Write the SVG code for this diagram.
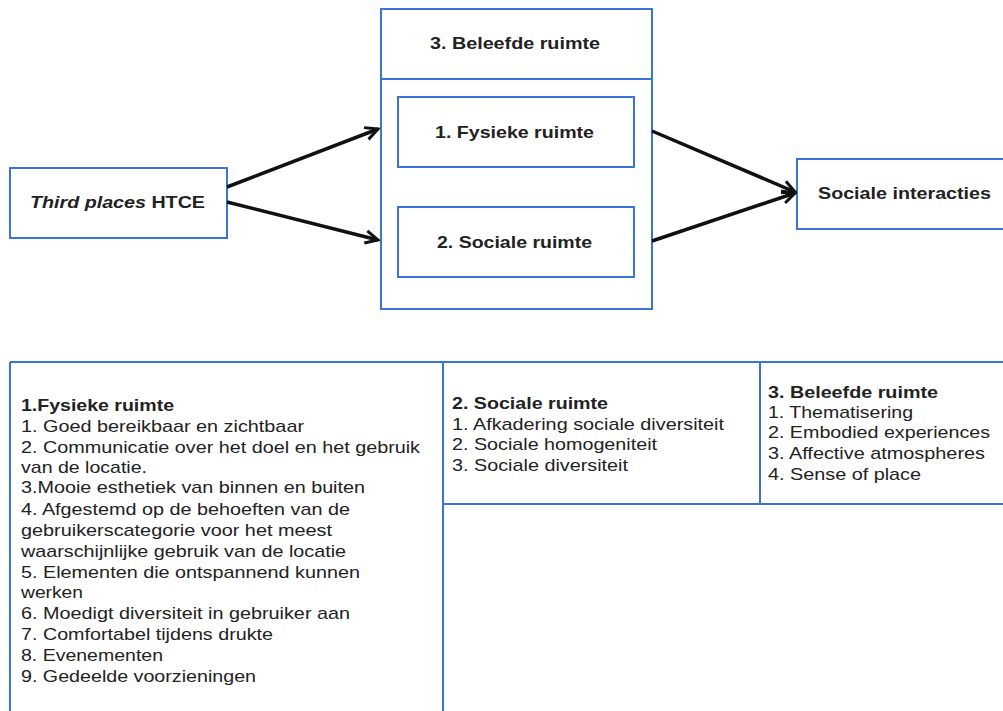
<svg xmlns="http://www.w3.org/2000/svg" width="1003" height="711" viewBox="0 0 1003 711">
<defs>
<style>
.box{fill:#fff;stroke:#3b73d8;stroke-width:2}
.ln{stroke:#3b73d8;stroke-width:2;fill:none}
.lbl{font-family:"Liberation Sans",Arial,sans-serif;font-size:17px;font-weight:bold;fill:#222}
.t{font-family:"Liberation Sans",Arial,sans-serif;font-size:17px;fill:#222}
.tb{font-family:"Liberation Sans",Arial,sans-serif;font-size:17px;font-weight:bold;fill:#222}
.arr{stroke:#111;stroke-width:3.5;fill:none;marker-end:url(#ah)}
</style>
<marker id="ah" viewBox="0 0 14 14" refX="12" refY="7" markerWidth="16" markerHeight="16" markerUnits="userSpaceOnUse" orient="auto">
<path d="M1,1.5 L12,7 L1,12.5" fill="none" stroke="#111" stroke-width="2.6"/>
</marker>
</defs>
<rect width="1003" height="711" fill="#fff"/>

<g id="third-places">
<rect class="box" x="10" y="168" width="217" height="70"/>
<text class="lbl" x="30" y="208" textLength="175" lengthAdjust="spacingAndGlyphs"><tspan font-style="italic">Third places</tspan> HTCE</text>
</g>

<g id="beleefde-ruimte">
<rect class="box" x="381" y="9" width="271" height="300"/>
<line class="ln" x1="381" y1="79" x2="652" y2="79"/>
<text class="lbl" x="430" y="49" textLength="170" lengthAdjust="spacingAndGlyphs">3. Beleefde ruimte</text>
</g>

<g id="fysieke-ruimte">
<rect class="box" x="398" y="97" width="236" height="70"/>
<text class="lbl" x="435" y="138" textLength="159" lengthAdjust="spacingAndGlyphs">1. Fysieke ruimte</text>
</g>

<g id="sociale-ruimte">
<rect class="box" x="398" y="207" width="236" height="70"/>
<text class="lbl" x="437" y="248" textLength="155" lengthAdjust="spacingAndGlyphs">2. Sociale ruimte</text>
</g>

<g id="sociale-interacties">
<rect class="box" x="797" y="159" width="210" height="70"/>
<text class="lbl" x="818" y="199" textLength="173" lengthAdjust="spacingAndGlyphs">Sociale interacties</text>
</g>

<g id="connectors">
<line class="arr" x1="227" y1="187" x2="378" y2="129"/>
<line class="arr" x1="227" y1="202" x2="378" y2="240"/>
<line class="arr" x1="652" y1="131" x2="795" y2="192"/>
<line class="arr" x1="652" y1="241" x2="795" y2="193"/>
</g>

<g id="table">
<line class="ln" x1="10" y1="362" x2="1003" y2="362"/>
<line class="ln" x1="10" y1="362" x2="10" y2="711"/>
<line class="ln" x1="443" y1="362" x2="443" y2="711"/>
<line class="ln" x1="760" y1="362" x2="760" y2="504"/>
<line class="ln" x1="443" y1="504" x2="1003" y2="504"/>
</g>

<g id="col-fysieke">
<text class="tb" x="21" y="411" textLength="153" lengthAdjust="spacingAndGlyphs">1.Fysieke ruimte</text>
<text class="t" x="21" y="432" textLength="283" lengthAdjust="spacingAndGlyphs">1. Goed bereikbaar en zichtbaar</text>
<text class="t" x="21" y="453" textLength="399" lengthAdjust="spacingAndGlyphs">2. Communicatie over het doel en het gebruik</text>
<text class="t" x="21" y="473" textLength="126" lengthAdjust="spacingAndGlyphs">van de locatie.</text>
<text class="t" x="21" y="493" textLength="344" lengthAdjust="spacingAndGlyphs">3.Mooie esthetiek van binnen en buiten</text>
<text class="t" x="21" y="515" textLength="329" lengthAdjust="spacingAndGlyphs">4. Afgestemd op de behoeften van de</text>
<text class="t" x="21" y="536" textLength="311" lengthAdjust="spacingAndGlyphs">gebruikerscategorie voor het meest</text>
<text class="t" x="21" y="557" textLength="325" lengthAdjust="spacingAndGlyphs">waarschijnlijke gebruik van de locatie</text>
<text class="t" x="21" y="578" textLength="339" lengthAdjust="spacingAndGlyphs">5. Elementen die ontspannend kunnen</text>
<text class="t" x="21" y="598" textLength="62" lengthAdjust="spacingAndGlyphs">werken</text>
<text class="t" x="21" y="619" textLength="329" lengthAdjust="spacingAndGlyphs">6. Moedigt diversiteit in gebruiker aan</text>
<text class="t" x="21" y="640" textLength="252" lengthAdjust="spacingAndGlyphs">7. Comfortabel tijdens drukte</text>
<text class="t" x="21" y="661" textLength="142" lengthAdjust="spacingAndGlyphs">8. Evenementen</text>
<text class="t" x="21" y="682" textLength="235" lengthAdjust="spacingAndGlyphs">9. Gedeelde voorzieningen</text>
</g>

<g id="col-sociale">
<text class="tb" x="452" y="409" textLength="156" lengthAdjust="spacingAndGlyphs">2. Sociale ruimte</text>
<text class="t" x="452" y="430" textLength="272" lengthAdjust="spacingAndGlyphs">1. Afkadering sociale diversiteit</text>
<text class="t" x="452" y="450" textLength="205" lengthAdjust="spacingAndGlyphs">2. Sociale homogeniteit</text>
<text class="t" x="452" y="471" textLength="176" lengthAdjust="spacingAndGlyphs">3. Sociale diversiteit</text>
</g>

<g id="col-beleefde">
<text class="tb" x="768" y="398" textLength="170" lengthAdjust="spacingAndGlyphs">3. Beleefde ruimte</text>
<text class="t" x="768" y="418" textLength="145" lengthAdjust="spacingAndGlyphs">1. Thematisering</text>
<text class="t" x="768" y="438" textLength="222" lengthAdjust="spacingAndGlyphs">2. Embodied experiences</text>
<text class="t" x="768" y="459" textLength="217" lengthAdjust="spacingAndGlyphs">3. Affective atmospheres</text>
<text class="t" x="768" y="480" textLength="153" lengthAdjust="spacingAndGlyphs">4. Sense of place</text>
</g>
</svg>
